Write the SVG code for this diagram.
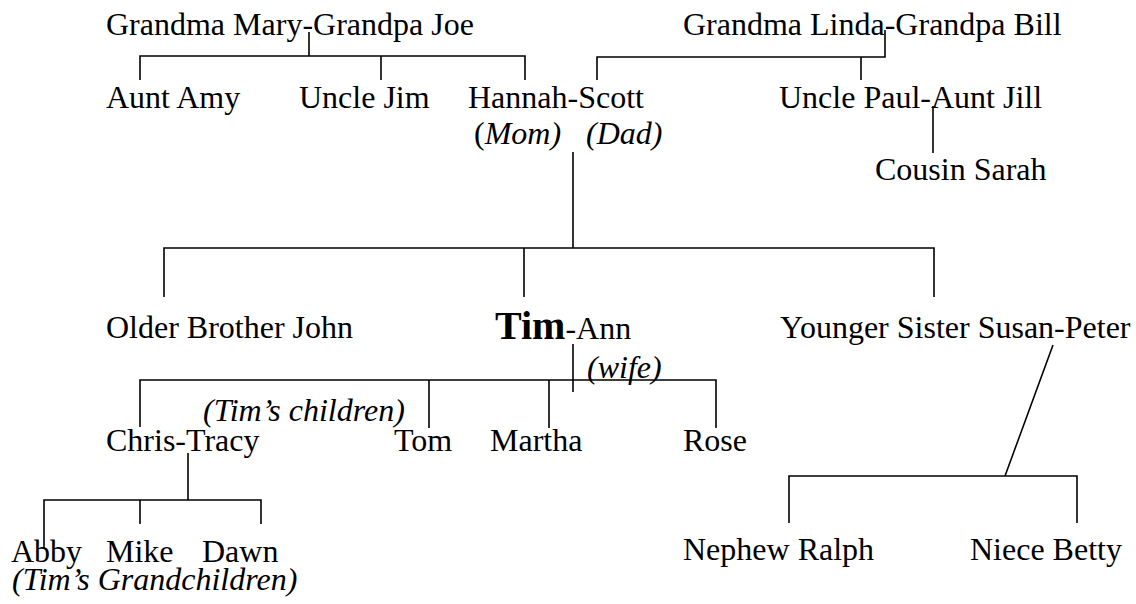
<svg xmlns="http://www.w3.org/2000/svg" width="1136" height="604" viewBox="0 0 1136 604">
<style>
text{font-family:"Liberation Serif","Times New Roman",serif;font-size:32px;fill:#000}
.i{font-style:italic}
.b{font-weight:bold;font-size:40px}
#connectors path{fill:none;stroke:#000;stroke-width:1.6}
</style>
<rect width="1136" height="604" fill="#fff"/>
<g id="connectors">
<path d="M309 32V56M140 80V56H525V80M381 56V80"/>
<path d="M885 30V57H597V80M861 57V80"/>
<path d="M933 106V153"/>
<path d="M573 152V248M164 297V248H934V297M524 248V297"/>
<path d="M573 344V392M140 427V380H716V428M429 380V428M549 380V428"/>
<path d="M188 453V500M44 548V500H261V524M140 500V524"/>
<path d="M1053 345L1005 476M789 523V476H1077V523"/>
</g>
<g id="grandparents-mary-joe"><text x="106" y="35">Grandma Mary-Grandpa Joe</text></g>
<g id="grandparents-linda-bill"><text x="683" y="35">Grandma Linda-Grandpa Bill</text></g>
<g id="aunt-amy"><text x="106" y="108">Aunt Amy</text></g>
<g id="uncle-jim"><text x="299" y="108">Uncle Jim</text></g>
<g id="hannah-scott"><text x="468" y="108">Hannah-Scott</text>
<text x="474" y="144">(<tspan class="i">Mom)</tspan></text>
<text x="586" y="144" class="i">(Dad)</text></g>
<g id="paul-jill"><text x="779" y="108">Uncle Paul-Aunt Jill</text></g>
<g id="cousin-sarah"><text x="875" y="180">Cousin Sarah</text></g>
<g id="john"><text x="106" y="338">Older Brother John</text></g>
<g id="tim-ann"><text x="495" y="339"><tspan class="b">Tim</tspan>-Ann</text>
<text x="587" y="378" class="i">(wife)</text></g>
<g id="susan-peter"><text x="780" y="338">Younger Sister Susan-Peter</text></g>
<g id="tims-children-label"><text x="203" y="421" class="i">(Tim’s children)</text></g>
<g id="chris-tracy"><text x="106" y="451">Chris-Tracy</text></g>
<g id="tom"><text x="394" y="451">Tom</text></g>
<g id="martha"><text x="490" y="451">Martha</text></g>
<g id="rose"><text x="683" y="451">Rose</text></g>
<g id="abby"><text x="11" y="562">Abby</text></g>
<g id="mike"><text x="106" y="562">Mike</text></g>
<g id="dawn"><text x="202" y="562">Dawn</text></g>
<g id="grandchildren-label"><text x="12" y="590" class="i">(Tim’s Grandchildren)</text></g>
<g id="ralph"><text x="683" y="560">Nephew Ralph</text></g>
<g id="betty"><text x="970" y="560">Niece Betty</text></g>
</svg>
